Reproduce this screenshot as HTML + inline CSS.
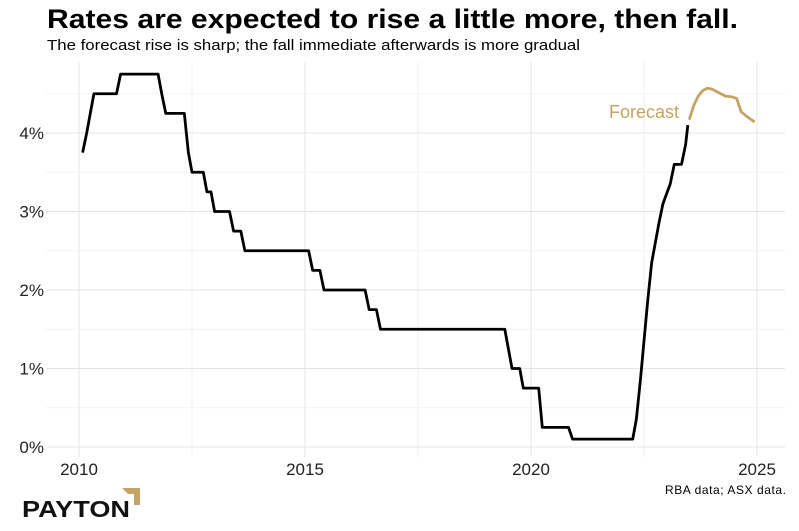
<!DOCTYPE html>
<html><head><meta charset="utf-8"><style>
body{margin:0;background:#fff;width:799px;height:531px;overflow:hidden;font-family:"Liberation Sans",sans-serif}
svg{position:absolute;left:0;top:0}
</style></head><body>
<svg width="799" height="531">
<text x="47" y="28" font-size="27" font-weight="bold" fill="#000" textLength="691" lengthAdjust="spacingAndGlyphs">Rates are expected to rise a little more, then fall.</text>
<text x="47" y="50" font-size="15" fill="#000" textLength="533" lengthAdjust="spacingAndGlyphs">The forecast rise is sharp; the fall immediate afterwards is more gradual</text>
<g id="grid"></g><g id="axes"></g><g id="series"></g>
<text x="679" y="118" font-size="18" fill="#c5a365" text-anchor="end">Forecast</text>
<text x="786" y="494" font-size="12" fill="#000" text-anchor="end" textLength="121">RBA data; ASX data.</text>
<g>
<text x="22" y="517" font-size="23" font-weight="bold" fill="#111" textLength="108" lengthAdjust="spacingAndGlyphs">PAYTON</text>
<path d="M122 488 L140 488 L140 505 L134 505 L134 494 L128 494 Z" fill="#c5a365"/>
</g>
</svg>
<script>
const dates=[2010.08,2010.17,2010.25,2010.33,2010.42,2010.83,2010.92,2011.75,2011.83,2011.92,2012.33,2012.42,2012.5,2012.75,2012.83,2012.92,2013.0,2013.33,2013.42,2013.58,2013.67,2015.08,2015.17,2015.33,2015.42,2016.33,2016.42,2016.58,2016.67,2019.42,2019.5,2019.58,2019.75,2019.83,2020.17,2020.25,2020.83,2020.92,2022.25,2022.33,2022.42,2022.5,2022.58,2022.67,2022.75,2022.83,2022.92,2023.08,2023.17,2023.33,2023.42,2023.47];
const rates=[3.75,4.0,4.25,4.5,4.5,4.5,4.75,4.75,4.5,4.25,4.25,3.75,3.5,3.5,3.25,3.25,3.0,3.0,2.75,2.75,2.5,2.5,2.25,2.25,2.0,2.0,1.75,1.75,1.5,1.5,1.25,1.0,1.0,0.75,0.75,0.25,0.25,0.1,0.1,0.35,0.85,1.35,1.85,2.35,2.6,2.85,3.1,3.35,3.6,3.6,3.85,4.1];
const fDates=[2023.5,2023.6,2023.7,2023.8,2023.9,2024.0,2024.1,2024.2,2024.3,2024.45,2024.55,2024.65,2024.8,2024.95];
const fRates=[4.17,4.35,4.47,4.54,4.57,4.56,4.53,4.5,4.47,4.46,4.44,4.27,4.2,4.14];
const xTicks=[2010,2015,2020,2025];
const yTicks=[0,1,2,3,4];
const X=d=>79+(d-2010)*45.2, Y=v=>447-v*78.5;
const NS="http://www.w3.org/2000/svg";
function mk(p,t,a){const e=document.createElementNS(NS,t);for(const k in a)e.setAttribute(k,a[k]);p.appendChild(e);return e;}
const g=document.getElementById('grid'),ax=document.getElementById('axes'),s=document.getElementById('series');
for(let d=2010;d<=2025;d+=2.5){const l=mk(g,'line',{x1:X(d),x2:X(d),y1:62,y2:457,stroke:d%5===0?'#e4e4e4':'#f2f2f2','stroke-width':1});

}
for(let v=0;v<=4.5;v+=0.5){const l=mk(g,'line',{x1:46,x2:785,y1:Y(v),y2:Y(v),stroke:v%1===0?'#e4e4e4':'#f2f2f2','stroke-width':1});

}
xTicks.forEach(d=>{const t=mk(ax,'text',{x:X(d),y:475,'font-size':17,'text-anchor':'middle',fill:'#222'});t.textContent=d;

});
yTicks.forEach(v=>{const t=mk(ax,'text',{x:44,y:Y(v)+6,'font-size':17,'text-anchor':'end',fill:'#222'});t.textContent=v+'%';

});
const p1=mk(s,'polyline',{points:dates.map((d,i)=>X(d)+','+Y(rates[i])).join(' '),fill:'none',stroke:'#000','stroke-width':2.8,'stroke-linejoin':'round'});


const p2=mk(s,'polyline',{points:fDates.map((d,i)=>X(d)+','+Y(fRates[i])).join(' '),fill:'none',stroke:'#c5a365','stroke-width':2.8,'stroke-linejoin':'round'});


</script>
</body></html>
